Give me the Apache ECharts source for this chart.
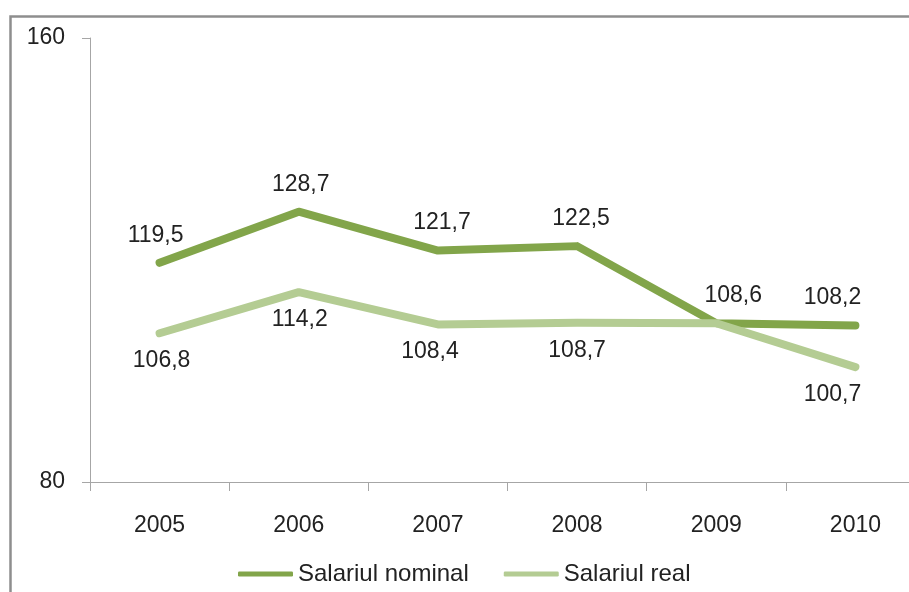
<!DOCTYPE html>
<html>
<head>
<meta charset="utf-8">
<script src="https://cdn.jsdelivr.net/npm/echarts@6/dist/echarts.min.js"></script>
<style>html,body{margin:0;padding:0;background:#fff;overflow:hidden}#c{width:925px;height:592px}</style>
</head>
<body>
<div id="c"></div>
<script>
const years = ['2005', '2006', '2007', '2008', '2009', '2010'];
const nominal = [119.5, 128.7, 121.7, 122.5, 108.6, 108.2];
const real = [106.8, 114.2, 108.4, 108.7, 108.6, 100.7];
const seriesNames = ['Salariul nominal', 'Salariul real'];
const yTicks = [80, 160];

const FONT = 'Liberation Sans';
const FS = 23;
const fmt = v => String(v).replace('.', ',');
const darkC = '#82A54A';
const lightC = '#B4CC93';

// label offsets per point (layout only)
const nomOffsets = [[-4,0],[2,0],[4,0],[4,0],[17,0],[-23,0]];
const realOffsets = [[2,0],[1,0],[-8,0],[0,0],[0,0],[-23,0]];

const chart = echarts.init(document.getElementById('c'));
chart.setOption({
  animation: false,
  backgroundColor: '#fff',
  graphic: [{
    type: 'rect', left: 8, top: 14,
    shape: { width: 1000, height: 1000 },
    style: { fill: 'none', stroke: '#8E8E8E', lineWidth: 2.5 },
    z: 100
  }],
  grid: { left: 90, top: 38, right: 0, height: 444 },
  legend: {
    left: 233, top: 557,
    itemWidth: 55, itemHeight: 5, itemGap: 35,
    icon: 'roundRect',
    textStyle: { fontFamily: FONT, fontSize: 24, color: '#222' },
    data: seriesNames
  },
  xAxis: {
    type: 'category', data: years, boundaryGap: true,
    axisLine: { lineStyle: { color: '#A6A6A6', width: 1 } },
    axisTick: { show: true, length: 9, lineStyle: { color: '#A6A6A6' } },
    axisLabel: { margin: 32, fontFamily: FONT, fontSize: FS, color: '#222' }
  },
  yAxis: {
    type: 'value', min: yTicks[0], max: yTicks[1], interval: yTicks[1] - yTicks[0],
    axisLine: { show: true, lineStyle: { color: '#A6A6A6', width: 1 } },
    axisTick: { show: true, length: 8, lineStyle: { color: '#A6A6A6' } },
    splitLine: { show: false },
    axisLabel: { margin: 25, fontFamily: FONT, fontSize: FS, color: '#222' }
  },
  series: [{
    name: seriesNames[0], type: 'line',
    data: nominal.map((v, i) => ({ value: v, label: { offset: nomOffsets[i] } })),
    symbol: 'circle', symbolSize: 0, showSymbol: true,
    lineStyle: { color: darkC, width: 8, cap: 'round', join: 'round' },
    itemStyle: { color: darkC },
    label: { show: true, position: 'top', distance: 16, formatter: p => fmt(p.value), fontFamily: FONT, fontSize: FS, color: '#222' },
    z: 2
  }, {
    name: seriesNames[1], type: 'line',
    data: real.map((v, i) => ({ value: v, label: { show: i !== 4, offset: realOffsets[i] } })),
    symbol: 'circle', symbolSize: 0, showSymbol: true,
    lineStyle: { color: lightC, width: 8, cap: 'round', join: 'round' },
    itemStyle: { color: lightC },
    label: { show: true, position: 'bottom', distance: 16, formatter: p => fmt(p.value), fontFamily: FONT, fontSize: FS, color: '#222' },
    z: 3
  }]
});
</script>
</body>
</html>
